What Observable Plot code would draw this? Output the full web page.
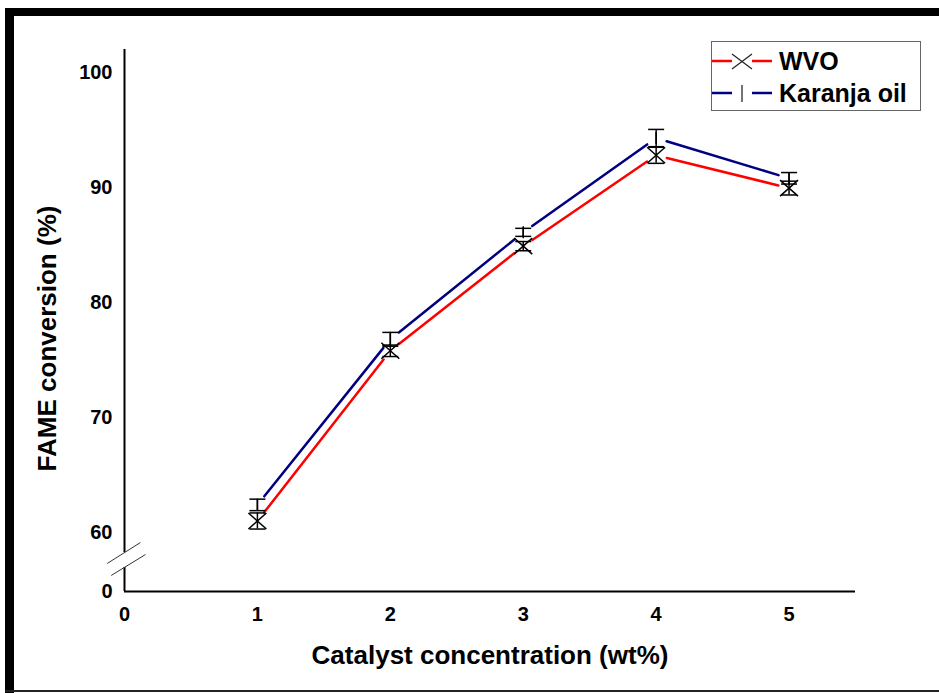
<!DOCTYPE html>
<html>
<head>
<meta charset="utf-8">
<script src="https://cdn.jsdelivr.net/npm/d3@7"></script>
<script src="https://cdn.jsdelivr.net/npm/@observablehq/plot@0.6"></script>
<style>
  html, body { margin: 0; padding: 0; background: #fff; }
  #wrap { position: relative; width: 939px; height: 693px; overflow: hidden; background: #fff;
          font-family: "Liberation Sans", Arial, sans-serif; }
  #chart { position: absolute; left: 0; top: 0; }
  .bar { position: absolute; background: #000; }
  #legend { position: absolute; left: 711px; top: 41px; }
</style>
</head>
<body>
<div id="wrap">
  <div id="chart"></div>
  <div class="bar" style="left:5px;top:8px;width:9px;height:685px;"></div>
  <div class="bar" style="left:5px;top:8px;width:934px;height:8px;"></div>
  <div class="bar" style="left:5px;top:690px;width:934px;height:2px;background:#222;"></div>
  <svg id="legend" width="211" height="71"></svg>
</div>
<script>
// ---- data ----
const concentration = [1, 2, 3, 4, 5];              // Catalyst concentration (wt%)
const wvo = [61.0, 75.8, 84.9, 92.8, 89.95];        // FAME conversion (%) - WVO
const wvoErr = [0.7, 0.5, 0.4, 0.7, 0.6];
const karanja = [62.4, 76.8, 86.1, 94.3, 90.8];     // FAME conversion (%) - Karanja oil
const karanjaErr = [0.5, 0.6, 0.35, 0.75, 0.5];
const seriesNames = ["WVO", "Karanja oil"];
const seriesColors = ["#ff0000", "#000080"];
const xTicks = [0, 1, 2, 3, 4, 5];
const yTicks = [0, 60, 70, 80, 90, 100];
const yDomain = [0, 60, 102];                        // broken axis: 0 | 60..102
const yAxisPieces = [[0, 24.4], [39.7, 102]];        // y-axis line with gap at the break
const breakMarks = [                                 // the two "//" break strokes
  {x1: -0.13, y1: 28.5, x2: 0.12, y2: 49.8},
  {x1: -0.10, y1: 16.3, x2: 0.158, y2: 37.6}
];
const xTitle = "Catalyst concentration (wt%)";
const yTitle = "FAME conversion (%)";

// ---- derived tables ----
function points(vals, errs, name) {
  return concentration.map((c, i) => ({x: c, y: vals[i], lo: vals[i] - errs[i], hi: vals[i] + errs[i], s: name}));
}
function segments(vals) {
  const out = [];
  for (let i = 0; i < concentration.length - 1; i++)
    out.push({x1: concentration[i], y1: vals[i], x2: concentration[i + 1], y2: vals[i + 1]});
  return out;
}
const pW = points(wvo, wvoErr, seriesNames[0]);
const pK = points(karanja, karanjaErr, seriesNames[1]);
const allPts = pW.concat(pK);

// custom symbols
const capSymbol = {draw(ctx) { ctx.moveTo(-8, 0); ctx.lineTo(8, 0); }};
const timesSymbol = {draw(ctx) { ctx.moveTo(-9, -8); ctx.lineTo(9, 8); ctx.moveTo(9, -8); ctx.lineTo(-9, 8); }};
const barSymbol = {draw(ctx) { ctx.moveTo(0, -6); ctx.lineTo(0, 6); }};

const W = 939, H = 693;
const chart = Plot.plot({
  width: W, height: H,
  marginLeft: 124, marginRight: 84, marginTop: 49, marginBottom: 102,
  style: {background: "transparent", fontFamily: "Liberation Sans, Arial, sans-serif", fontWeight: "bold", fontSize: "20px", color: "#000"},
  x: {type: "linear", domain: [0, 5.5], range: [124, 855]},
  y: {type: "linear", domain: yDomain, range: [591, 532, 49]},
  marks: [
    Plot.axisX({ticks: xTicks, tickSize: 0, tickPadding: 15, tickFormat: d => String(d), label: null, fontSize: 20, fontWeight: "bold"}),
    Plot.axisY({ticks: yTicks, tickSize: 0, tickPadding: 12, tickFormat: d => String(d), label: null, fontSize: 20, fontWeight: "bold"}),
    Plot.ruleY([0], {stroke: "#000", strokeWidth: 2}),
    Plot.ruleX(yAxisPieces, {x: () => 0, y1: d => d[0], y2: d => d[1], stroke: "#000", strokeWidth: 2}),
    Plot.link(breakMarks, {x1: "x1", y1: "y1", x2: "x2", y2: "y2", stroke: "#333", strokeWidth: 1}),
    // connecting lines with gaps around the markers
    Plot.arrow(segments(wvo), {x1: "x1", y1: "y1", x2: "x2", y2: "y2", stroke: seriesColors[0], strokeWidth: 2.5, headLength: 0, insetStart: 11, insetEnd: 11, bend: 0}),
    Plot.arrow(segments(karanja), {x1: "x1", y1: "y1", x2: "x2", y2: "y2", stroke: seriesColors[1], strokeWidth: 2.5, headLength: 0, insetStart: 11, insetEnd: 11, bend: 0}),
    // error bars
    Plot.ruleX(allPts, {x: "x", y1: "lo", y2: "hi", stroke: "#000", strokeWidth: 1.5}),
    Plot.dot(allPts, {x: "x", y: "lo", symbol: capSymbol, fill: "none", stroke: "#000", strokeWidth: 1.5}),
    Plot.dot(allPts, {x: "x", y: "hi", symbol: capSymbol, fill: "none", stroke: "#000", strokeWidth: 1.5}),
    // markers
    Plot.dot(pW, {x: "x", y: "y", symbol: timesSymbol, fill: "none", stroke: "#000", strokeWidth: 1.5}),
    Plot.dot(pK, {x: "x", y: "y", symbol: barSymbol, fill: "none", stroke: "#000", strokeWidth: 1.5}),
    // axis titles
    Plot.text([xTitle], {text: d => d, frameAnchor: "bottom", textAnchor: "middle", lineAnchor: "middle", dy: 64, fontSize: 26, fontWeight: "bold", fill: "#000"}),
    Plot.text([yTitle], {text: d => d, frameAnchor: "left", textAnchor: "middle", lineAnchor: "middle", rotate: -90, dx: -77, dy: 18, fontSize: 26, fontWeight: "bold", fill: "#000"})
  ]
});
document.getElementById("chart").appendChild(chart);

// ---- legend ----
const lg = d3.select("#legend");
lg.append("rect").attr("x", 0.5).attr("y", 0.5).attr("width", 209).attr("height", 69)
  .attr("fill", "#fff").attr("stroke", "#666").attr("stroke-width", 1);
const rows = [
  {name: seriesNames[0], color: seriesColors[0], cy: 20, kind: "times"},
  {name: seriesNames[1], color: seriesColors[1], cy: 52, kind: "bar"}
];
rows.forEach(r => {
  lg.append("line").attr("x1", 1).attr("x2", 21).attr("y1", r.cy).attr("y2", r.cy).attr("stroke", r.color).attr("stroke-width", 2.5);
  lg.append("line").attr("x1", 41).attr("x2", 61).attr("y1", r.cy).attr("y2", r.cy).attr("stroke", r.color).attr("stroke-width", 2.5);
  if (r.kind === "times") {
    lg.append("path").attr("d", `M21,${r.cy - 7}L41,${r.cy + 8}M41,${r.cy - 7}L21,${r.cy + 8}`).attr("stroke", "#222").attr("stroke-width", 1.2).attr("fill", "none");
  } else {
    lg.append("line").attr("x1", 31).attr("x2", 31).attr("y1", r.cy - 8).attr("y2", r.cy + 9).attr("stroke", "#444").attr("stroke-width", 1.5);
  }
  lg.append("text").attr("x", 68).attr("y", r.cy + 8.5).text(r.name)
    .attr("font-family", "Liberation Sans, Arial, sans-serif").attr("font-weight", "bold").attr("font-size", 25).attr("fill", "#000");
});
</script>
</body>
</html>
